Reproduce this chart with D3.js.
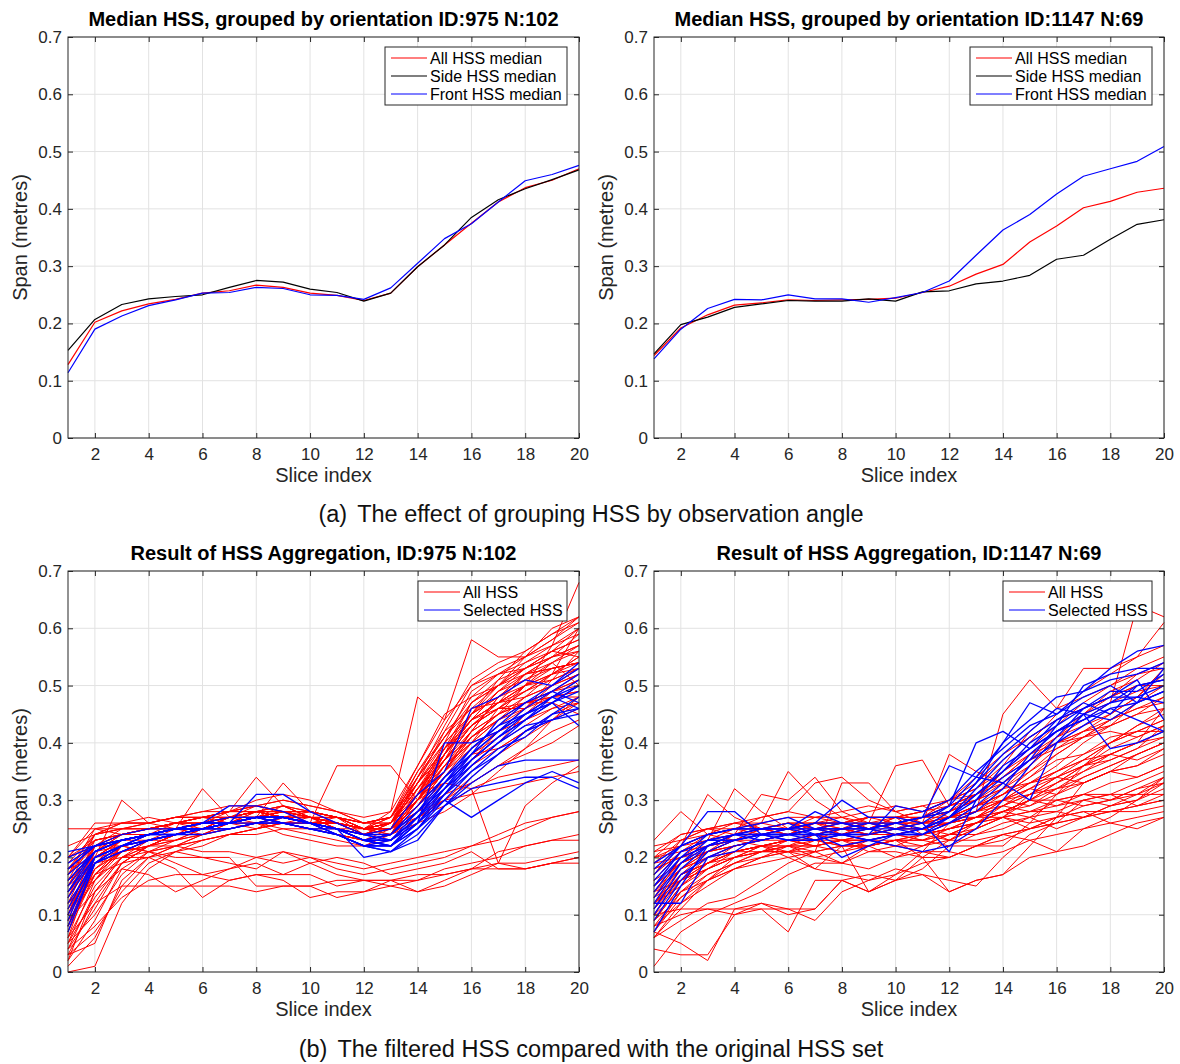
<!DOCTYPE html>
<html>
<head>
    <script src="https://cdn.jsdelivr.net/npm/d3@7"></script>
    <style>
        body { margin: 0; background: #fff; }
        #my-svg { font-family: "Liberation Sans", Arial, Helvetica, sans-serif; }
    </style>
</head>
<body>

<svg id="my-svg" width="1180" height="1064"></svg>

<script>
    // x axis: slice index 1..20
    const slices = [1,2,3,4,5,6,7,8,9,10,11,12,13,14,15,16,17,18,19,20];
    const xTicks = [2,4,6,8,10,12,14,16,18,20];
    const yTicks = [0,0.1,0.2,0.3,0.4,0.5,0.6,0.7];

    // (a) medians, metres
    const allMedianA   = [0.128,0.202,0.222,0.234,0.242,0.253,0.257,0.267,0.263,0.253,0.249,0.240,0.253,0.299,0.337,0.375,0.412,0.437,0.450,0.470];
    const sideMedianA  = [0.153,0.207,0.233,0.243,0.247,0.250,0.263,0.275,0.272,0.260,0.254,0.239,0.253,0.299,0.337,0.385,0.416,0.435,0.451,0.468];
    const frontMedianA = [0.114,0.190,0.213,0.231,0.241,0.253,0.254,0.263,0.261,0.250,0.249,0.242,0.262,0.305,0.348,0.374,0.412,0.449,0.460,0.476];

    const allMedianB   = [0.144,0.192,0.215,0.232,0.236,0.241,0.240,0.241,0.242,0.244,0.254,0.265,0.286,0.303,0.342,0.370,0.402,0.413,0.429,0.436];
    const sideMedianB  = [0.147,0.198,0.211,0.228,0.234,0.240,0.239,0.239,0.243,0.239,0.255,0.257,0.269,0.274,0.284,0.312,0.319,0.347,0.373,0.381];
    const frontMedianB = [0.138,0.190,0.226,0.242,0.241,0.250,0.243,0.243,0.237,0.245,0.254,0.274,0.319,0.363,0.390,0.426,0.457,0.470,0.483,0.509];

    // (b) individual HSS, centimetres
    const allHssA = [
        [25,25,24,25,26,27,27,28,27,27,26,25,27,34,41,47,50,53,56,58],
        [2,14,20,23,24,25,26,27,26,26,25,24,26,33,39,43,46,49,52,55],
        [0,1,12,18,21,23,24,25,26,25,24,23,25,31,38,44,47,50,54,57],
        [10,20,30,26,25,24,26,27,28,26,25,24,24,30,36,40,44,48,52,60],
        [18,24,25,25,26,27,26,28,29,27,26,25,26,33,42,50,52,55,58,62],
        [15,22,23,24,25,32,27,26,27,28,27,25,24,29,35,41,45,50,53,54],
        [20,23,24,25,26,26,28,34,29,27,26,25,27,33,38,44,46,50,57,68],
        [12,16,21,23,24,25,26,27,33,28,27,24,26,32,37,42,45,47,49,50],
        [5,10,17,21,23,25,26,27,27,26,36,36,36,30,38,45,48,50,52,53],
        [14,19,22,24,25,26,27,28,28,27,26,25,28,48,44,58,55,55,60,62],
        [8,18,22,23,24,25,27,27,28,27,27,26,27,31,33,32,19,29,33,36],
        [6,12,15,15,15,15,15,14,15,15,16,16,16,17,17,18,18,18,19,20],
        [9,14,18,17,14,16,18,19,17,17,15,16,15,14,15,17,19,19,20,21],
        [12,17,19,20,18,13,16,17,16,13,14,14,16,16,17,18,21,22,23,23],
        [15,19,20,20,21,20,20,15,15,15,13,14,15,16,18,19,20,22,23,24],
        [18,20,21,22,22,21,21,20,21,20,19,18,19,20,21,22,23,25,27,28],
        [20,22,22,21,19,17,18,20,19,20,18,17,18,19,20,22,24,26,27,28],
        [4,8,13,16,17,17,16,17,17,19,17,16,16,14,16,18,19,18,19,20],
        [16,21,22,21,20,20,19,18,21,19,20,19,17,18,19,21,18,18,19,19],
        [17,22,24,25,26,26,27,27,27,26,25,24,25,28,30,31,32,33,34,35],
        [14,21,23,24,25,26,26,27,27,26,25,23,24,27,29,32,34,35,36,37],
        [5,16,22,23,25,26,26,27,28,27,26,25,26,30,36,42,45,47,48,48],
        [11,21,24,25,26,27,28,29,28,27,27,26,27,34,40,45,48,52,55,59],
        [3,5,16,20,22,23,24,25,26,25,24,23,24,30,37,43,47,50,52,55],
        [20,26,26,26,27,28,28,29,30,29,28,26,26,32,39,47,50,53,56,60],
        [8,18,21,22,23,24,26,25,27,26,26,24,25,31,36,40,42,44,46,47],
        [13,23,24,24,25,26,26,27,29,27,26,24,25,30,35,40,46,46,49,51],
        [4,11,19,22,24,25,26,27,26,27,26,24,25,33,39,44,49,52,53,54],
        [17,25,25,26,27,27,28,29,28,28,27,26,26,32,37,43,46,49,51,53],
        [6,15,20,22,24,25,27,28,27,26,25,25,26,35,41,46,50,55,58,61],
        [10,17,22,23,23,24,25,26,25,25,24,23,24,29,34,38,41,44,47,50],
        [19,24,25,26,27,27,28,30,31,30,28,27,28,36,45,48,52,54,57,60],
        [14,19,21,22,23,25,26,26,26,26,26,24,24,28,33,37,40,43,46,48],
        [7,20,23,24,25,25,26,27,28,27,25,24,24,30,37,43,47,49,52,54],
        [2,9,18,21,22,24,25,26,27,26,24,23,24,28,32,36,39,42,45,47],
        [22,24,26,27,26,25,27,28,27,28,26,25,26,30,35,39,43,46,50,53],
        [12,22,24,25,25,26,27,28,29,28,27,25,25,29,33,38,39,42,44,46],
        [9,16,20,21,22,23,24,24,25,24,23,22,23,26,31,36,40,45,49,52],
        [16,24,25,25,26,26,27,28,27,27,26,25,24,29,36,41,44,46,48,49],
        [3,7,14,19,21,22,24,25,26,25,25,24,25,29,34,39,42,45,48,51],
        [13,20,23,24,24,25,26,28,27,26,27,26,27,33,39,44,47,52,55,57],
        [18,22,23,23,24,24,25,26,24,23,22,22,24,31,38,43,46,47,48,49],
        [6,19,23,24,25,26,27,28,28,27,26,25,26,34,43,51,54,56,59,61],
        [15,24,26,26,27,27,28,28,27,27,26,25,25,31,40,49,52,53,55,56],
        [9,21,24,25,26,27,27,28,29,28,27,26,27,36,44,50,53,55,57,59],
        [11,18,21,23,24,25,26,27,28,28,27,25,25,29,35,42,48,51,54,56],
        [4,14,20,22,24,25,25,26,27,26,25,23,24,32,38,44,49,53,56,58],
        [18,23,24,25,26,26,27,27,26,26,26,25,25,30,38,47,51,53,55,57],
        [7,17,21,23,24,26,27,28,27,27,26,24,24,28,34,40,44,47,49,51],
        [13,21,23,24,26,27,27,29,30,29,28,26,27,35,42,46,47,48,50,52],
        [10,22,25,25,26,27,28,28,28,28,27,25,26,33,40,45,50,54,56,55],
        [1,6,15,20,22,24,25,26,27,26,25,24,24,29,35,41,45,48,50,52],
        [17,23,24,24,25,26,27,28,28,27,25,24,25,31,37,45,49,51,53,54],
        [12,19,22,24,25,26,26,27,27,26,26,24,25,34,41,48,50,52,54,50],
        [20,25,26,26,27,28,29,29,28,27,26,25,26,30,33,37,42,46,51,56],
        [5,13,19,22,24,25,27,28,27,27,25,24,26,31,39,45,51,56,59,62],
        [14,22,23,24,25,26,27,27,28,28,27,25,26,32,37,41,44,47,47,45],
        [8,20,23,24,24,25,26,27,27,26,26,25,26,30,35,42,48,52,53,54],
        [16,20,22,23,24,25,26,26,26,25,24,23,24,27,30,33,36,39,44,48],
        [3,12,19,22,24,25,26,27,26,26,26,25,25,31,38,44,47,50,51,53],
        [10,20,23,24,25,26,26,27,27,26,25,24,24,26,28,31,35,39,42,44],
        [15,22,24,25,25,26,27,27,28,27,26,25,25,27,30,34,38,41,44,47],
        [8,17,21,23,24,25,26,27,27,27,26,25,25,28,31,33,36,38,40,43]
    ];
    const selHssA = [
        [21,22,23,24,25,26,29,29,28,26,25,23,22,27,33,38,42,45,48,51],
        [18,22,24,25,25,25,26,31,31,28,26,24,23,28,34,39,43,47,50,53],
        [16,21,23,24,25,26,26,27,27,26,25,20,21,25,31,37,41,44,47,50],
        [14,20,22,23,24,25,25,26,27,26,25,23,22,26,32,38,42,46,49,47],
        [12,19,22,24,25,26,26,27,26,25,24,22,21,24,29,34,38,42,45,48],
        [10,19,21,23,24,25,26,27,27,26,25,23,22,26,40,40,42,45,48,46],
        [8,19,21,23,24,25,25,26,26,25,24,22,23,26,30,27,30,33,35,33],
        [7,19,22,23,24,24,25,26,26,25,24,22,21,23,29,33,36,37,37,37],
        [15,21,23,24,24,25,26,27,27,26,25,23,23,27,33,39,43,45,47,50],
        [17,21,23,24,25,25,26,27,26,26,25,24,25,31,35,46,48,51,50,54],
        [19,22,23,24,25,25,26,27,27,26,25,23,24,29,34,38,44,47,49,52],
        [13,20,22,24,25,25,26,27,27,26,25,24,24,28,32,36,40,43,44,45],
        [11,20,22,23,24,25,26,26,27,26,24,22,22,25,29,32,33,34,34,32],
        [16,21,23,24,25,26,26,27,27,26,24,22,22,26,31,36,40,44,48,50],
        [20,22,23,24,24,25,26,27,26,25,25,23,24,28,33,37,41,45,47,43],
        [14,21,23,24,25,25,26,27,27,26,25,23,23,27,32,37,41,44,47,49],
        [9,20,22,24,25,26,26,27,27,26,24,22,22,25,30,35,38,42,44,46],
        [18,22,23,24,25,26,27,27,27,26,25,24,23,27,31,35,39,41,45,46]
    ];

    const allHssB = [
        [1,7,10,12,14,17,19,19,21,21,20,20,22,23,25,26,27,29,30,33],
        [4,3,3,10,12,10,11,16,14,16,17,14,16,17,20,21,25,27,30,34],
        [7,5,2,11,11,11,9,14,16,17,19,20,22,24,25,27,29,30,32,34],
        [23,28,24,26,25,24,26,27,25,27,24,26,28,30,33,35,37,40,43,46],
        [21,22,31,27,25,26,25,24,26,26,27,29,31,33,36,40,42,45,48,52],
        [19,20,23,32,28,25,27,26,25,27,28,30,34,38,41,44,46,48,52,54],
        [12,18,21,24,31,30,34,28,26,25,27,30,32,36,42,46,48,50,53,55],
        [17,23,25,24,26,35,30,27,26,36,37,29,30,35,40,45,49,52,55,61],
        [15,21,23,25,27,28,33,34,30,28,26,38,35,33,37,41,44,47,64,62],
        [9,13,16,18,20,22,21,33,33,28,29,27,28,45,51,46,53,53,55,57],
        [10,14,17,19,21,22,24,25,24,24,25,23,25,27,31,34,37,40,43,45],
        [6,9,12,13,16,19,21,22,22,23,23,24,26,29,31,33,36,40,42,44],
        [14,19,22,23,24,24,25,24,24,25,25,27,29,31,34,37,38,41,42,42],
        [11,16,20,22,23,24,24,25,26,25,26,26,27,30,32,31,33,35,36,38],
        [8,10,11,11,12,11,11,16,17,16,20,23,26,28,27,30,29,30,31,33],
        [13,18,20,21,22,23,23,23,24,24,24,25,27,28,30,29,30,31,33,35],
        [20,24,25,26,26,27,27,28,29,28,29,30,31,34,38,41,45,48,50,50],
        [16,21,24,25,24,25,26,24,25,26,27,28,30,32,35,39,42,43,45,48],
        [12,15,18,20,21,21,22,21,23,22,22,24,24,26,27,28,27,28,29,30],
        [18,20,22,23,23,24,24,25,26,25,26,27,29,30,29,31,34,36,38,40],
        [7,13,17,19,21,21,20,21,22,20,21,20,22,24,23,24,25,26,27,28],
        [15,19,21,22,23,23,22,23,22,23,23,25,26,28,29,32,33,35,36,39],
        [11,17,19,21,22,22,22,23,23,24,23,22,24,25,27,25,27,29,31,31],
        [19,22,24,25,25,26,25,26,25,26,26,26,27,28,30,30,31,30,32,33],
        [10,16,18,20,21,22,23,22,23,22,24,23,23,24,25,26,27,28,29,31],
        [22,23,25,25,26,25,26,26,27,27,27,28,30,32,33,34,36,38,40,41],
        [6,12,16,18,20,21,21,19,18,20,22,24,25,27,30,33,35,37,39,41],
        [13,16,19,20,22,21,23,24,24,26,25,26,28,30,32,34,36,37,39,43],
        [9,15,19,21,22,23,23,22,22,23,24,25,26,27,28,30,31,31,31,34],
        [17,21,23,23,24,25,23,25,24,25,25,24,26,27,25,27,28,28,28,29],
        [14,18,20,22,23,24,24,23,21,22,21,21,20,21,23,21,22,24,26,27],
        [8,14,16,19,20,21,18,17,16,18,17,16,15,20,24,26,30,29,30,32],
        [20,22,24,23,25,24,26,25,27,26,27,29,31,35,38,40,41,42,41,43],
        [16,19,21,22,23,24,24,25,24,24,24,26,28,29,31,34,33,35,34,36],
        [12,17,19,21,21,23,24,23,23,24,25,27,27,29,28,28,30,31,29,30],
        [18,20,21,23,22,23,24,24,25,24,25,26,27,27,26,27,28,26,25,27],
        [10,11,11,10,11,7,16,16,14,16,18,22,22,22,26,31,36,38,40,42],
        [14,16,18,20,22,20,18,22,14,17,21,26,29,31,35,38,41,44,46,48],
        [12,17,19,21,22,22,20,19,22,23,20,14,16,17,22,27,33,35,38,40],
        [14,20,22,24,24,25,25,26,27,27,28,30,33,37,41,44,46,48,50,51],
        [11,18,21,23,25,25,26,26,26,27,27,29,31,35,39,42,45,47,49,50],
        [16,21,23,24,25,26,26,25,26,26,27,28,30,33,37,40,42,44,47,49],
        [9,15,19,22,23,24,24,24,25,24,25,27,28,31,34,38,41,44,46,47],
        [13,20,22,23,24,24,25,25,24,25,26,27,29,32,36,41,43,45,48,53],
        [19,23,24,25,25,26,26,26,27,27,28,29,31,34,37,39,41,43,45,46],
        [7,14,18,21,22,23,23,24,24,25,25,26,27,29,32,35,38,40,42,44],
        [21,24,25,26,27,28,27,27,28,29,28,30,32,35,39,43,47,50,52,53],
        [15,19,21,22,23,24,24,24,23,24,24,25,26,28,30,33,36,39,41,43],
        [10,17,21,23,24,24,25,25,25,26,26,27,28,30,31,32,34,36,38,40],
        [12,16,19,21,22,23,22,23,24,24,23,24,26,28,30,32,35,38,40,46],
        [17,22,23,24,25,25,26,26,27,27,26,28,31,34,38,42,45,49,51,54],
        [8,12,15,18,19,20,21,22,22,23,24,25,27,30,33,35,37,38,37,39],
        [20,21,22,24,25,24,25,26,25,26,27,27,29,31,33,36,40,43,47,50],
        [6,11,16,20,21,22,22,23,23,23,22,23,25,27,28,29,31,33,34,36]
    ];
    const selHssB = [
        [19,22,24,25,25,25,25,26,26,26,27,28,33,40,44,48,49,51,52,54],
        [15,20,22,24,24,25,24,25,25,25,26,29,34,40,47,45,49,53,56,57],
        [12,12,20,21,24,24,24,24,25,26,27,36,34,33,30,40,45,44,47,49],
        [9,16,21,23,24,24,24,24,24,25,25,27,31,35,40,43,46,48,48,50],
        [7,15,22,24,23,24,25,25,25,24,24,27,30,36,39,42,44,46,44,42],
        [17,22,28,28,24,25,26,30,27,27,26,21,30,34,37,40,43,46,47,49],
        [14,20,24,25,25,25,28,26,25,26,27,29,40,42,39,44,47,45,50,51],
        [16,21,23,24,24,23,23,24,24,29,28,30,35,39,43,45,48,50,47,53],
        [11,18,22,23,24,23,24,22,23,22,21,22,25,30,36,41,46,48,51,44],
        [18,22,24,25,26,27,25,24,23,24,25,27,32,37,41,44,46,49,49,52],
        [13,19,23,24,25,26,24,20,22,24,25,28,33,38,42,46,45,39,40,42],
        [10,17,20,22,23,24,25,25,26,25,24,26,29,33,37,43,50,52,53,53],
        [15,21,23,23,24,24,23,24,23,24,24,26,28,32,38,42,45,47,48,47],
        [12,19,22,24,25,25,26,26,25,26,25,27,31,35,39,42,44,47,50,51]
    ];

    const svg = d3.select("#my-svg");
    const axisColor = "#262626";
    const gridColor = "#e2e2e2";
    const fmtY = d => d === 0 ? "0" : d3.format(".1f")(d);

    function drawPanel(p) {
        let x = d3.scaleLinear().domain([1, 20]).range([p.left, p.right]);
        let y = d3.scaleLinear().domain([0, 0.7]).range([p.bottom, p.top]);
        let g = svg.append("g");

        // grid
        g.append("g").selectAll("line").data(xTicks).join("line")
            .attr("x1", d => x(d)).attr("x2", d => x(d))
            .attr("y1", p.top).attr("y2", p.bottom)
            .attr("stroke", gridColor);
        g.append("g").selectAll("line").data(yTicks).join("line")
            .attr("x1", p.left).attr("x2", p.right)
            .attr("y1", d => y(d)).attr("y2", d => y(d))
            .attr("stroke", gridColor);

        // data lines
        let line = d3.line().x((d, i) => x(slices[i])).y(d => y(d * p.unit));
        p.series.forEach(s => {
            g.append("g").selectAll("path").data(s.rows).join("path")
                .attr("d", line)
                .attr("fill", "none")
                .attr("stroke", s.color)
                .attr("stroke-width", s.width)
                .attr("stroke-linejoin", "round");
        });

        // axes, ticks pointing inwards on all four sides
        let styleAxis = sel => {
            sel.select(".domain").remove();
            sel.selectAll(".tick line").attr("stroke", axisColor);
            sel.selectAll(".tick text").attr("fill", axisColor)
                .style("font-size", "17px")
                .style("font-family", "'Liberation Sans', Arial, sans-serif");
        };
        g.append("g").attr("transform", `translate(0,${p.bottom})`)
            .call(d3.axisBottom(x).tickValues(xTicks).tickSizeInner(-5).tickSizeOuter(0).tickPadding(10))
            .call(styleAxis);
        g.append("g").attr("transform", `translate(0,${p.top})`)
            .call(d3.axisTop(x).tickValues(xTicks).tickSizeInner(-5).tickSizeOuter(0).tickFormat(""))
            .call(styleAxis);
        g.append("g").attr("transform", `translate(${p.left},0)`)
            .call(d3.axisLeft(y).tickValues(yTicks).tickFormat(fmtY).tickSizeInner(-5).tickSizeOuter(0).tickPadding(6))
            .call(styleAxis);
        g.append("g").attr("transform", `translate(${p.right},0)`)
            .call(d3.axisRight(y).tickValues(yTicks).tickSizeInner(-5).tickSizeOuter(0).tickFormat(""))
            .call(styleAxis);

        g.append("rect")
            .attr("x", p.left).attr("y", p.top)
            .attr("width", p.right - p.left).attr("height", p.bottom - p.top)
            .attr("fill", "none").attr("stroke", axisColor).attr("stroke-width", 1);

        // title and labels
        g.append("text")
            .attr("x", (p.left + p.right) / 2).attr("y", p.top - 11)
            .attr("text-anchor", "middle")
            .style("font-size", "20px").style("font-weight", "bold")
            .text(p.title);
        g.append("text")
            .attr("x", (p.left + p.right) / 2).attr("y", p.bottom + 44)
            .attr("text-anchor", "middle").attr("fill", axisColor)
            .style("font-size", "20px")
            .text("Slice index");
        g.append("text")
            .attr("transform", `translate(${p.left - 41},${(p.top + p.bottom) / 2}) rotate(-90)`)
            .attr("text-anchor", "middle").attr("fill", axisColor)
            .style("font-size", "20px")
            .text("Span (metres)");

        // legend
        let lg = g.append("g").attr("transform", `translate(${p.right - 12 - p.legendW},${p.top + 10})`);
        lg.append("rect")
            .attr("width", p.legendW).attr("height", p.legend.length * 18 + 4)
            .attr("fill", "#fff").attr("stroke", axisColor);
        p.legend.forEach((e, i) => {
            let cy = 11 + i * 18;
            lg.append("line")
                .attr("x1", 6).attr("x2", 42).attr("y1", cy).attr("y2", cy)
                .attr("stroke", e.color).attr("stroke-width", 1.2);
            lg.append("text")
                .attr("x", 45).attr("y", cy + 5.5)
                .style("font-size", "16px")
                .text(e.label);
        });
    }

    const medianLegend = [
        { label: "All HSS median", color: "#ff0000" },
        { label: "Side HSS median", color: "#000000" },
        { label: "Front HSS median", color: "#0000ff" }
    ];
    const hssLegend = [
        { label: "All HSS", color: "#ff0000" },
        { label: "Selected HSS", color: "#0000ff" }
    ];

    drawPanel({
        left: 68, right: 579, top: 37, bottom: 438, unit: 1,
        title: "Median HSS, grouped by orientation ID:975 N:102",
        series: [
            { rows: [allMedianA], color: "#ff0000", width: 1.2 },
            { rows: [sideMedianA], color: "#000000", width: 1.2 },
            { rows: [frontMedianA], color: "#0000ff", width: 1.2 }
        ],
        legend: medianLegend, legendW: 182
    });
    drawPanel({
        left: 654, right: 1164, top: 37, bottom: 438, unit: 1,
        title: "Median HSS, grouped by orientation ID:1147 N:69",
        series: [
            { rows: [allMedianB], color: "#ff0000", width: 1.2 },
            { rows: [sideMedianB], color: "#000000", width: 1.2 },
            { rows: [frontMedianB], color: "#0000ff", width: 1.2 }
        ],
        legend: medianLegend, legendW: 182
    });
    drawPanel({
        left: 68, right: 579, top: 571, bottom: 972, unit: 0.01,
        title: "Result of HSS Aggregation, ID:975 N:102",
        series: [
            { rows: allHssA, color: "#ff0000", width: 1 },
            { rows: selHssA, color: "#0000ff", width: 1.3 }
        ],
        legend: hssLegend, legendW: 149
    });
    drawPanel({
        left: 654, right: 1164, top: 571, bottom: 972, unit: 0.01,
        title: "Result of HSS Aggregation, ID:1147 N:69",
        series: [
            { rows: allHssB, color: "#ff0000", width: 1 },
            { rows: selHssB, color: "#0000ff", width: 1.3 }
        ],
        legend: hssLegend, legendW: 149
    });

    // sub-figure captions
    let cap = svg.append("g").style("font-size", "23.5px").attr("fill", "#111");
    let ca = cap.append("text").attr("x", 591).attr("y", 522).attr("text-anchor", "middle");
    ca.append("tspan").text("(a)");
    ca.append("tspan").attr("dx", 10).text("The effect of grouping HSS by observation angle");
    let cb = cap.append("text").attr("x", 591).attr("y", 1057).attr("text-anchor", "middle");
    cb.append("tspan").text("(b)");
    cb.append("tspan").attr("dx", 10).text("The filtered HSS compared with the original HSS set");
</script>
</body>
</html>
